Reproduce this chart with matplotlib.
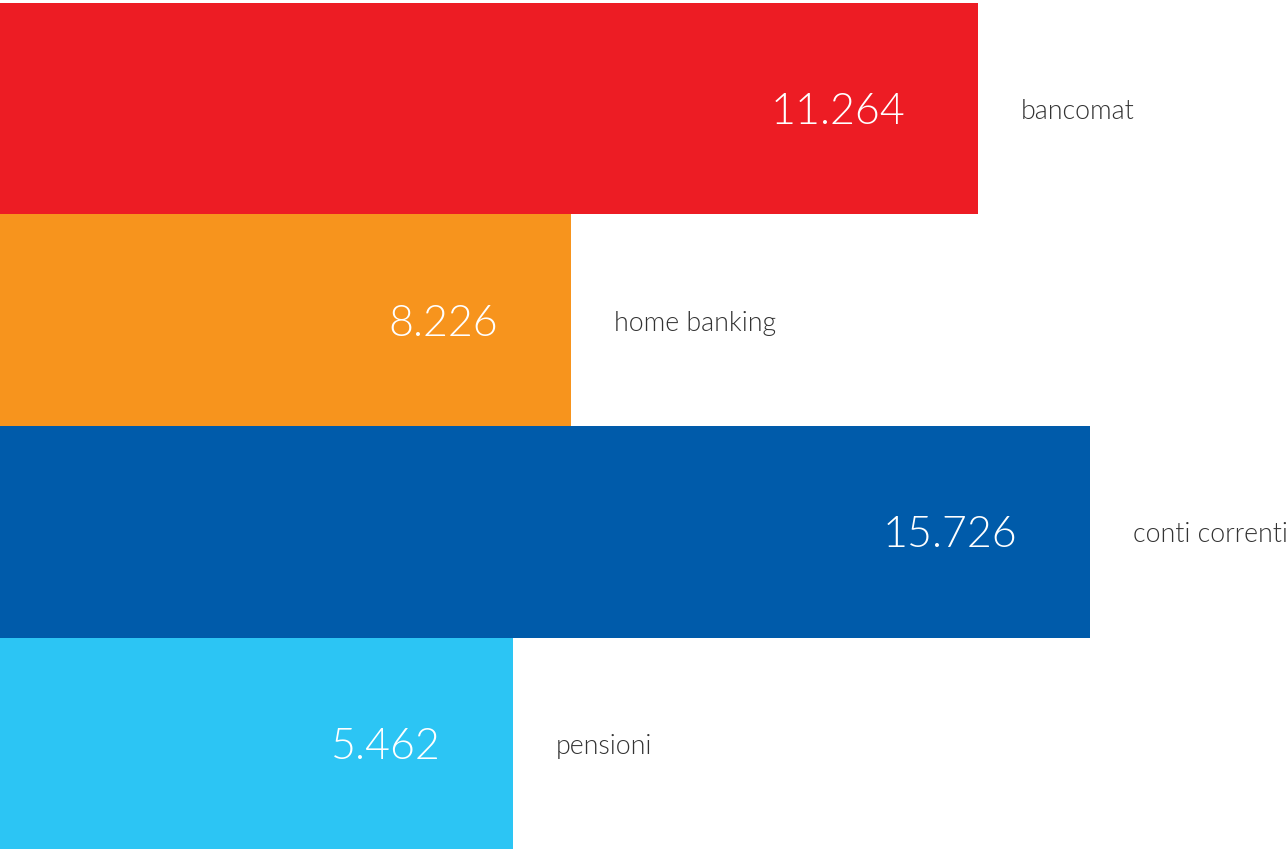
import matplotlib
matplotlib.use("Agg")
import matplotlib.pyplot as plt

# Data
categories = ["bancomat", "home banking", "conti correnti", "pensioni"]
value_labels = ["11.264", "8.226", "15.726", "5.462"]
# displayed bar lengths (percent of chart width), the infographic is not to scale
bar_length = [75.9, 44.3, 84.6, 39.8]
colors = ["#ED1C24", "#F7941D", "#005BAA", "#2CC5F4"]

plt.rcParams["font.family"] = ["Lato", "DejaVu Sans"]

fig = plt.figure(figsize=(12.88, 8.49), dpi=100)
ax = fig.add_axes([0, 0, 1, 1])

ypos = list(range(len(categories)))
ax.barh(ypos, bar_length, height=1.0, color=colors, linewidth=0)

for y, length, val, cat in zip(ypos, bar_length, value_labels, categories):
    ax.annotate(val, xy=(length, y), xytext=(-52, -3), textcoords="offset points",
                ha="right", va="center", color="white", fontsize=31, fontweight=300)
    ax.annotate(cat, xy=(length, y), xytext=(31, -2), textcoords="offset points",
                ha="left", va="center", color="#333333", fontsize=19.3, fontweight=300)

ax.set_xlim(0, 100)
ax.set_ylim(3.5, -0.5 - 3 / 211.5)
ax.axis("off")

fig.savefig("out.png", dpi=100)
plt.close(fig)
